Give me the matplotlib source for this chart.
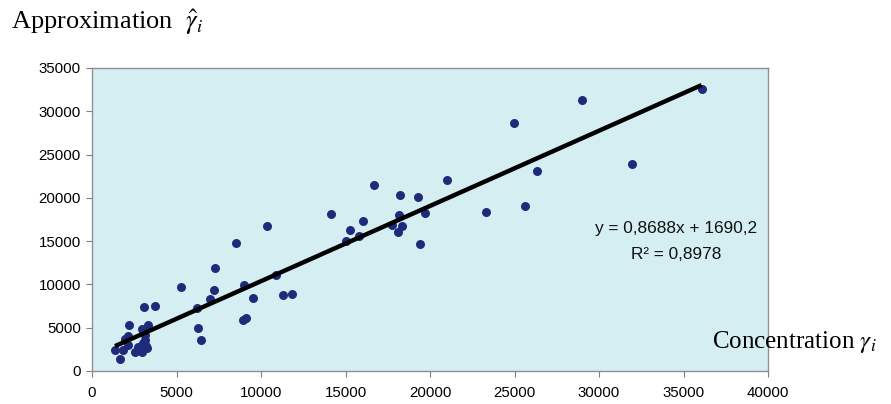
import matplotlib
matplotlib.use("Agg")
import matplotlib.pyplot as plt
import numpy as np

conc = [36070, 29000, 24990, 31950, 26330, 20990, 18220, 19270, 19700, 23310,
        25620, 18180, 18360, 17730, 18090, 16690, 14140, 16040, 15280, 15820,
        15010, 19410, 10340, 8520, 7260, 10890, 5280, 7200, 9010, 7000,
        9540, 11280, 11820, 6210, 3710, 3100, 6290, 8950, 9100, 6430,
        2210, 3330, 2940, 2150, 1950, 3140, 3040, 1360, 1850, 1660,
        2540, 2940, 3240, 2740, 2150, 3140, 3200]
approx = [32600, 31300, 28600, 23860, 23130, 22100, 20360, 20050, 18200, 18320,
          19050, 18000, 16780, 16860, 16000, 21500, 18170, 17280, 16280, 15550,
          15050, 14700, 16800, 14800, 11850, 11050, 9660, 9320, 9970, 8310,
          8470, 8780, 8890, 7310, 7540, 7400, 4930, 5890, 6150, 3550,
          5270, 5270, 4810, 4040, 3700, 4150, 3270, 2420, 2420, 1350,
          2230, 2230, 2620, 2800, 3000, 3580, 2900]

slope = 0.8688
intercept = 1690.2

xticks = [0, 5000, 10000, 15000, 20000, 25000, 30000, 35000, 40000]
yticks = [0, 5000, 10000, 15000, 20000, 25000, 30000, 35000]

plt.rcParams['mathtext.fontset'] = 'stix'

fig = plt.figure(figsize=(8.91, 4.04), dpi=100)
ax = fig.add_axes([0.1033, 0.0817, 0.7587, 0.75])
ax.set_facecolor('#d5eef2')

ax.scatter(conc, approx, s=42, color='#1f2a7a', zorder=3, linewidths=0)

xs = np.array([min(conc), max(conc)])
ax.plot(xs, slope * xs + intercept, color='black', lw=3.2, zorder=4,
        solid_capstyle='butt')

ax.set_xlim(0, 40000)
ax.set_ylim(0, 35000)
ax.set_xticks(xticks)
ax.set_yticks(yticks)
ax.tick_params(direction='out', length=4, color='#808080', labelsize=10.8)
ax.tick_params(axis='y', pad=4)
ax.tick_params(axis='x', pad=7)
for lab in ax.get_xticklabels() + ax.get_yticklabels():
    lab.set_family('Liberation Sans')
for sp in ax.spines.values():
    sp.set_color('#909090')
    sp.set_linewidth(1.0)

ax.text(34560, 16500, 'y = 0,8688x + 1690,2', ha='center', va='center',
        fontsize=12.4, family='Liberation Sans', color='#111111')
ax.text(34560, 13500, 'R² = 0,8978', ha='center', va='center',
        fontsize=12.4, family='Liberation Sans', color='#111111')

fig.text(0.012, 0.945, r'Approximation  $\hat{\gamma}_i$', ha='left',
         va='center', fontsize=19, family='Liberation Serif')
fig.text(0.799, 0.153, r'Concentration $\gamma_i$', ha='left',
         va='center', fontsize=18, family='Liberation Serif')

fig.savefig('out.png', dpi=100)
